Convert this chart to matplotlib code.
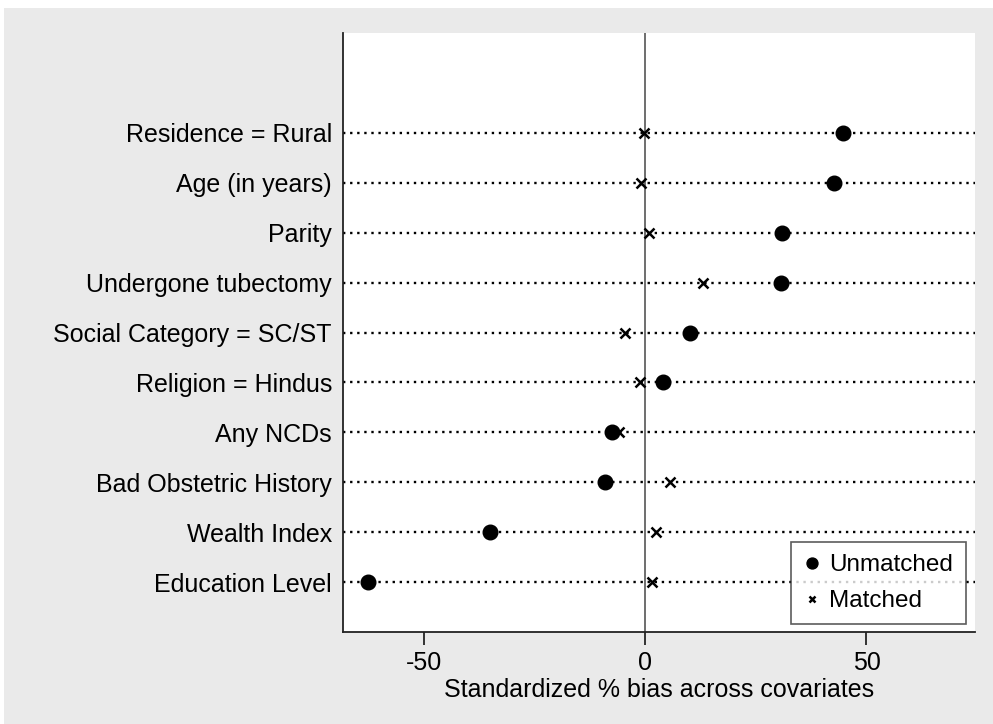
import matplotlib
matplotlib.use("Agg")
import matplotlib.pyplot as plt
from matplotlib.patches import Rectangle

covariates = ["Residence = Rural", "Age (in years)", "Parity", "Undergone tubectomy",
              "Social Category = SC/ST", "Religion = Hindus", "Any NCDs",
              "Bad Obstetric History", "Wealth Index", "Education Level"]
unmatched = [44.8, 42.7, 31.0, 30.8, 10.2, 4.0, -7.4, -9.1, -35.0, -62.5]
matched = [-0.2, -1.0, 0.9, 13.1, -4.6, -1.2, -5.9, 5.7, 2.5, 1.6]
xticks = [-50, 0, 50]

plt.rcParams['font.family'] = ['Liberation Sans', 'DejaVu Sans']

W, H = 993, 724
fig = plt.figure(figsize=(W/100, H/100), dpi=100, facecolor='white')
fig.patches.append(Rectangle((4/W, 0), 1, 1 - 8/H, transform=fig.transFigure,
                             facecolor='#eaeaea', edgecolor='none', zorder=-10))
ax = fig.add_axes([343/W, (H-632)/H, 632/W, 599/H])
ax.set_facecolor('white')

n = len(covariates)
ypos = list(range(n, 0, -1))
for y in ypos:
    ax.axhline(y, color='black', linestyle=(0, (1, 2)), linewidth=1.7, zorder=1)
ax.axvline(0, color='#555555', linewidth=1.2, zorder=1)

ax.plot(unmatched, ypos, 'o', color='black', markersize=10.5, linestyle='none',
        label='Unmatched', zorder=3)
ax.plot(matched, ypos, 'x', color='black', markersize=6.5, markeredgewidth=1.8,
        linestyle='none', label='Matched', zorder=3)

ax.set_xlim(-68.2, 74.5)
ax.set_ylim(0, 12)
ax.set_yticks(ypos)
ax.set_yticklabels(covariates, fontsize=18)
ax.tick_params(axis='y', length=0, pad=8)
ax.set_xticks(xticks)
ax.set_xticklabels([str(t) for t in xticks], fontsize=18)
ax.tick_params(axis='x', direction='out', length=9, width=1.1, pad=5)
ax.set_xlabel('Standardized % bias across covariates', fontsize=18, labelpad=2)

for s in ['top', 'right']:
    ax.spines[s].set_visible(False)
for s in ['left', 'bottom']:
    ax.spines[s].set_linewidth(1.3)
    ax.spines[s].set_color('#222222')

leg = ax.legend(loc='lower right', bbox_to_anchor=(0.985, 0.013), fontsize=17.5,
                frameon=True, fancybox=False, edgecolor='#333333',
                handletextpad=0.3, handlelength=0.8, borderpad=0.5,
                labelspacing=0.56, borderaxespad=0, markerscale=0.75)
leg.get_frame().set_linewidth(1.2)

fig.savefig('out.png', dpi=100, facecolor=fig.get_facecolor())
